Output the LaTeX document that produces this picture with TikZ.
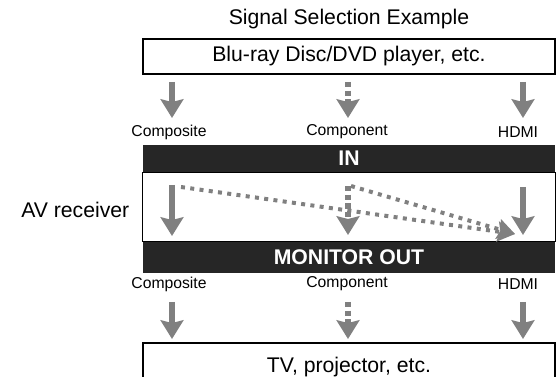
\documentclass[tikz,border=0pt]{standalone}
\usepackage{fontspec}
\setmainfont{Liberation Sans}
\usetikzlibrary{positioning,arrows.meta}

\begin{document}
\begin{tikzpicture}[
  x=0.75pt, y=-0.75pt,
  font=\fontsize{15.9}{18}\selectfont,
  lbl/.style={font=\fontsize{11.8}{13}\selectfont, inner sep=0pt},
  dev/.style={draw, line width=1.1pt, minimum width=309pt, minimum height=26.25pt, inner sep=0pt},
  band/.style={fill=black!85, text=white, font=\fontsize{15.9}{18}\selectfont\bfseries,
               minimum width=309pt, inner sep=0pt},
  garrow/.style={draw=black!50, line width=5pt,
                 -{Stealth[length=14pt, width=17pt, inset=2pt]}},
  darrow/.style={garrow, dash pattern=on 4pt off 2.5pt},
  sel/.style={draw=black!50, line width=3pt, dash pattern=on 3pt off 4pt,
              -{Stealth[length=13pt, width=15pt, inset=2pt]}},
]
\clip (0,0) rectangle (557,377);

% source
\node (title) at (349,19) {Signal Selection Example};
\node[dev] (src) at (349,56.5) {Blu-ray Disc/DVD player, etc.};

\coordinate (a1) at (172,82);  \coordinate (a2) at (172,118);
\coordinate (b1) at (348,82);  \coordinate (b2) at (348,118);
\coordinate (c1) at (523,82);  \coordinate (c2) at (523,118);
\draw[garrow] (a1) -- (a2);
\draw[darrow] (b1) -- (b2);
\draw[garrow] (c1) -- (c2);

\node[lbl] (incps) at (169,132) {Composite};
\node[lbl] (incmp) at (347,132) {Component};
\node[lbl] (inhdmi) at (518,132) {HDMI};

% receiver
\node[band, minimum height=20.25pt] (inband) at (349,158.5) {IN};
\node[band, minimum height=23.25pt] (outband) at (349,257.5) {MONITOR OUT};
\draw[line width=1.1pt] (inband.south west) rectangle (outband.north east);
\node[anchor=east] (avr) at (134,210) {AV receiver};

\coordinate (ra1) at (172,185); \coordinate (ra2) at (172,236);
\coordinate (rb1) at (348,186); \coordinate (rb2) at (348,235);
\coordinate (rc1) at (523,187); \coordinate (rc2) at (523,235);
\coordinate (hit) at (515,234);
\draw[garrow] (ra1) -- (ra2);
\draw[darrow] (rb1) -- (rb2);
\draw[garrow] (rc1) -- (rc2);
\draw[sel] (181,187) coordinate (sa) -- (hit);
\draw[sel] (351,186) coordinate (sb) -- (hit);

\node[lbl] (outcps) at (169,284) {Composite};
\node[lbl] (outcmp) at (347,284) {Component};
\node[lbl] (outhdmi) at (518,284) {HDMI};

% display
\coordinate (d1) at (172,302);  \coordinate (d2) at (172,339);
\coordinate (e1) at (348,302);  \coordinate (e2) at (348,339);
\coordinate (f1) at (523,302);  \coordinate (f2) at (523,339);
\draw[garrow] (d1) -- (d2);
\draw[darrow] (e1) -- (e2);
\draw[garrow] (f1) -- (f2);

\node[dev, minimum height=36pt] (dst) at (349,367) {TV, projector, etc.};
\end{tikzpicture}
\end{document}
